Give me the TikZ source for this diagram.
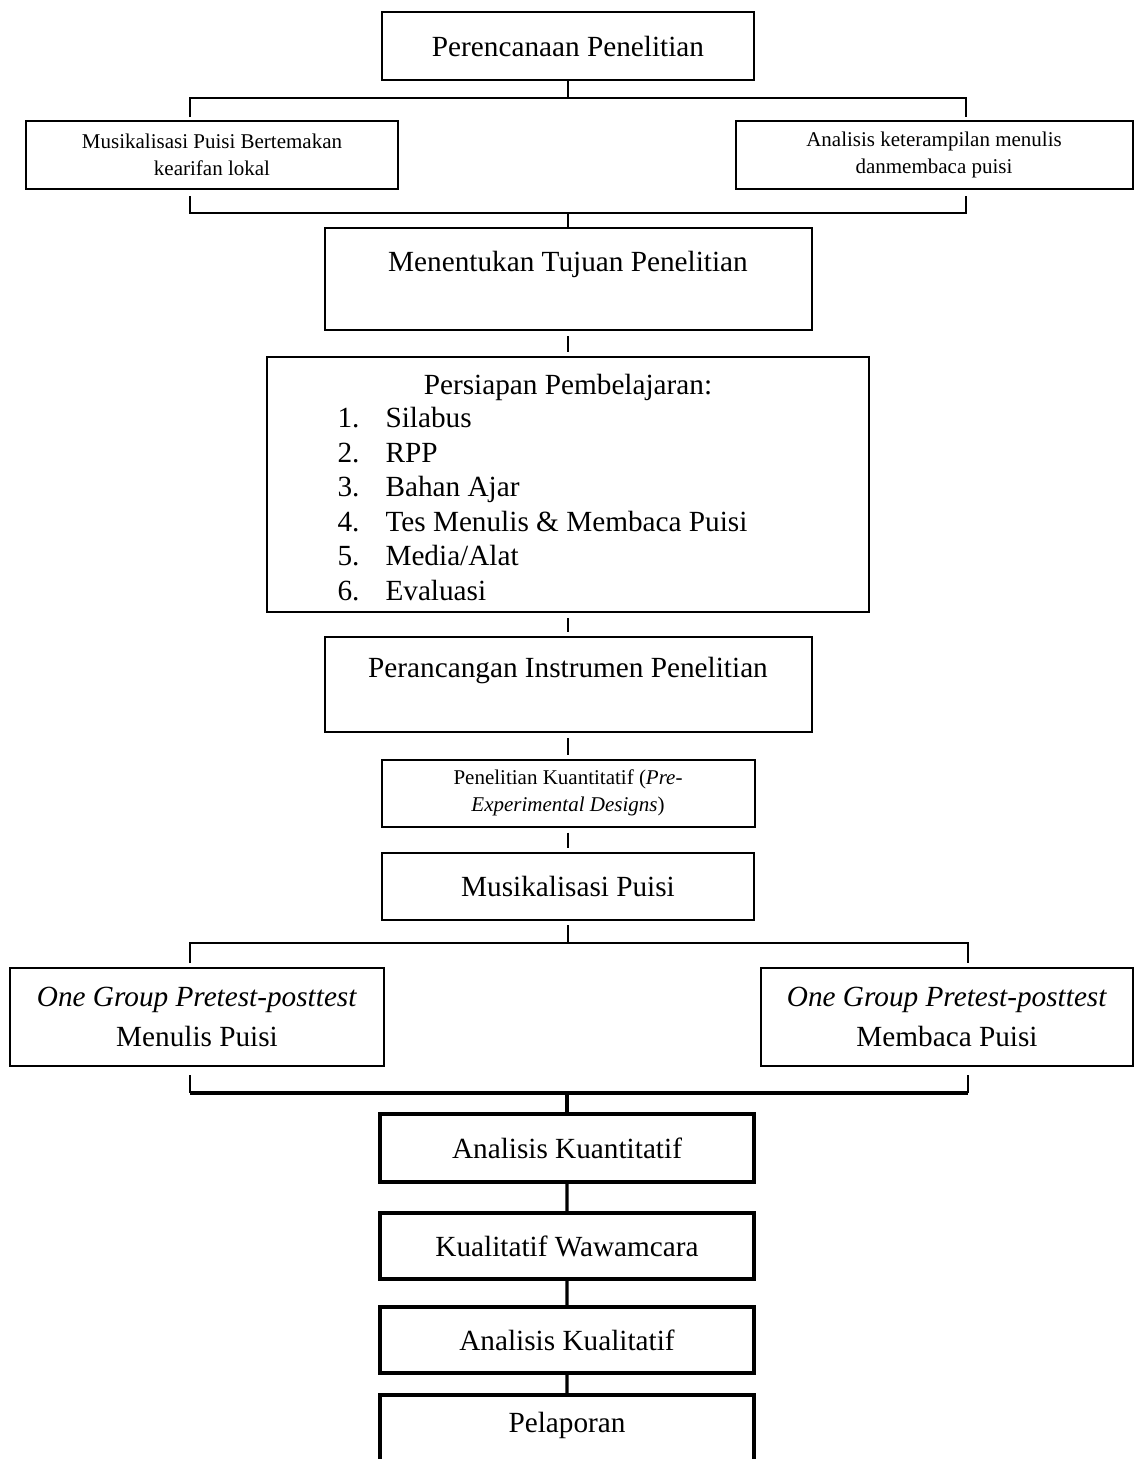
\documentclass[tikz,border=0pt]{standalone}
\usepackage{fontspec}
\setmainfont{Liberation Serif}
\newcommand\mainsz{\fontsize{11.7}{13.8}\selectfont}
\newcommand\smallsz{\fontsize{8.4}{11}\selectfont}
\newcommand\nomor[1]{\makebox[19.2pt][l]{#1}}

\begin{document}
\begin{tikzpicture}[x=1pt,y=1pt,yscale=-0.4,xscale=0.4,
    box/.style={draw, line width=0.8pt, inner sep=0pt, align=center, font=\mainsz},
    thickbox/.style={box, line width=1.3pt},
    txt/.style={inner sep=0pt, font=\mainsz},
    link/.style={line width=0.5pt},
    thicklink/.style={line width=1.3pt},
    gap/.style={shorten <=2pt, shorten >=1.6pt}]
    \useasboundingbox (0,0) rectangle (1135,1459);
    \clip (0,0) rectangle (1135,1459);

    %Shape: Rectangle
    \node[box, minimum width=148.8pt, minimum height=27.2pt] (plan) at (568,46) {Perencanaan Penelitian};
    %Shape: Rectangle
    \node[box, font=\smallsz, minimum width=148.4pt, minimum height=27.2pt] (musik) at (212,155) {Musikalisasi Puisi Bertemakan\\kearifan lokal};
    %Shape: Rectangle
    \node[box, font=\smallsz, minimum width=158.8pt, minimum height=27.2pt] (skill) at (934,155) {Analisis keterampilan menulis\\danmembaca puisi};
    %Shape: Rectangle
    \node[box, minimum width=194.8pt, minimum height=40.8pt] (tujuan) at (568,279) {Menentukan Tujuan Penelitian\\\mbox{}};
    %Shape: Rectangle
    \node[box, minimum width=240.4pt, minimum height=102pt] (persiapan) at (568,484.5) {};
    %Shape: Rectangle
    \node[box, minimum width=194.8pt, minimum height=38pt] (rancang) at (568,684.5) {Perancangan Instrumen Penelitian\\\mbox{}};
    %Shape: Rectangle
    \node[box, font=\smallsz, minimum width=149.2pt, minimum height=26.8pt] (kuanti) at (568,793) {Penelitian Kuantitatif (\textit{Pre-}\\\textit{Experimental Designs})};
    %Shape: Rectangle
    \node[box, minimum width=148.8pt, minimum height=26.8pt] (puisi) at (568,886.5) {Musikalisasi Puisi};
    %Shape: Rectangle
    \node[box, minimum width=149.6pt, minimum height=39.2pt] (menulis) at (197,1017) {\textit{One Group Pretest-posttest}\\[2pt]Menulis Puisi};
    %Shape: Rectangle
    \node[box, minimum width=148.8pt, minimum height=39.2pt] (membaca) at (947,1017) {\textit{One Group Pretest-posttest}\\[2pt]Membaca Puisi};
    %Shape: Rectangle
    \node[thickbox, minimum width=149.6pt, minimum height=27.2pt] (ankuan) at (567,1148) {Analisis Kuantitatif};
    %Shape: Rectangle
    \node[thickbox, minimum width=149.6pt, minimum height=26.4pt] (wawan) at (567,1246) {Kualitatif Wawamcara};
    %Shape: Rectangle
    \node[thickbox, minimum width=149.6pt, minimum height=26.4pt] (ankual) at (567,1340) {Analisis Kualitatif};
    %Shape: Rectangle
    \node[thickbox, minimum width=149.6pt, minimum height=36pt] (lapor) at (567,1440) {Pelaporan\\\mbox{}};

    % Text Node
    \node[txt] (judul) at (568,387) {Persiapan Pembelajaran:};
    % Text Node
    \node[txt, anchor=west, align=left] (daftar) at (337,504) {\nomor{1.}Silabus\\\nomor{2.}RPP\\\nomor{3.}Bahan Ajar\\\nomor{4.}Tes Menulis \& Membaca Puisi\\\nomor{5.}Media/Alat\\\nomor{6.}Evaluasi};

    \coordinate (bar1l) at (190,98);   \coordinate (bar1r) at (966,98);
    \coordinate (drop1l) at (190,117); \coordinate (drop1r) at (966,117);
    \coordinate (rise1l) at (190,196); \coordinate (rise1r) at (966,196);
    \coordinate (bar2l) at (190,213);  \coordinate (bar2r) at (966,213);
    \coordinate (bar3l) at (190,943);  \coordinate (bar3r) at (968,943);
    \coordinate (drop3l) at (190,963); \coordinate (drop3r) at (968,963);
    \coordinate (rise3l) at (190,1075); \coordinate (rise3r) at (968,1075);
    \coordinate (bar4l) at (190,1093); \coordinate (bar4r) at (968,1093);

    %Straight Lines
    \draw[link] (plan.south) -- (plan.south |- bar1l);
    \draw[link] (drop1l) -- (bar1l) -- (bar1r) -- (drop1r);
    \draw[link] (rise1l) -- (bar2l) -- (bar2r) -- (rise1r);
    \draw[link] (tujuan.north |- bar2l) -- (tujuan.north);
    \draw[link, gap] (tujuan.south) -- (persiapan.north);
    \draw[link, gap] (persiapan.south) -- (rancang.north);
    \draw[link, gap] (rancang.south) -- (kuanti.north);
    \draw[link, gap] (kuanti.south) -- (puisi.north);
    \draw[link, shorten <=1.6pt] (puisi.south) -- (puisi.south |- bar3l);
    \draw[link] (drop3l) -- (bar3l) -- (bar3r) -- (drop3r);
    \draw[link] (rise3l) -- (bar4l);
    \draw[link] (rise3r) -- (bar4r);
    \draw[thicklink, line width=1.4pt] (bar4l) -- (bar4r);
    \draw[thicklink] (ankuan.north |- bar4l) -- (ankuan.north);
    \draw[thicklink] (ankuan) -- (wawan);
    \draw[thicklink] (wawan) -- (ankual);
    \draw[thicklink] (ankual) -- (lapor);

\end{tikzpicture}
\end{document}
